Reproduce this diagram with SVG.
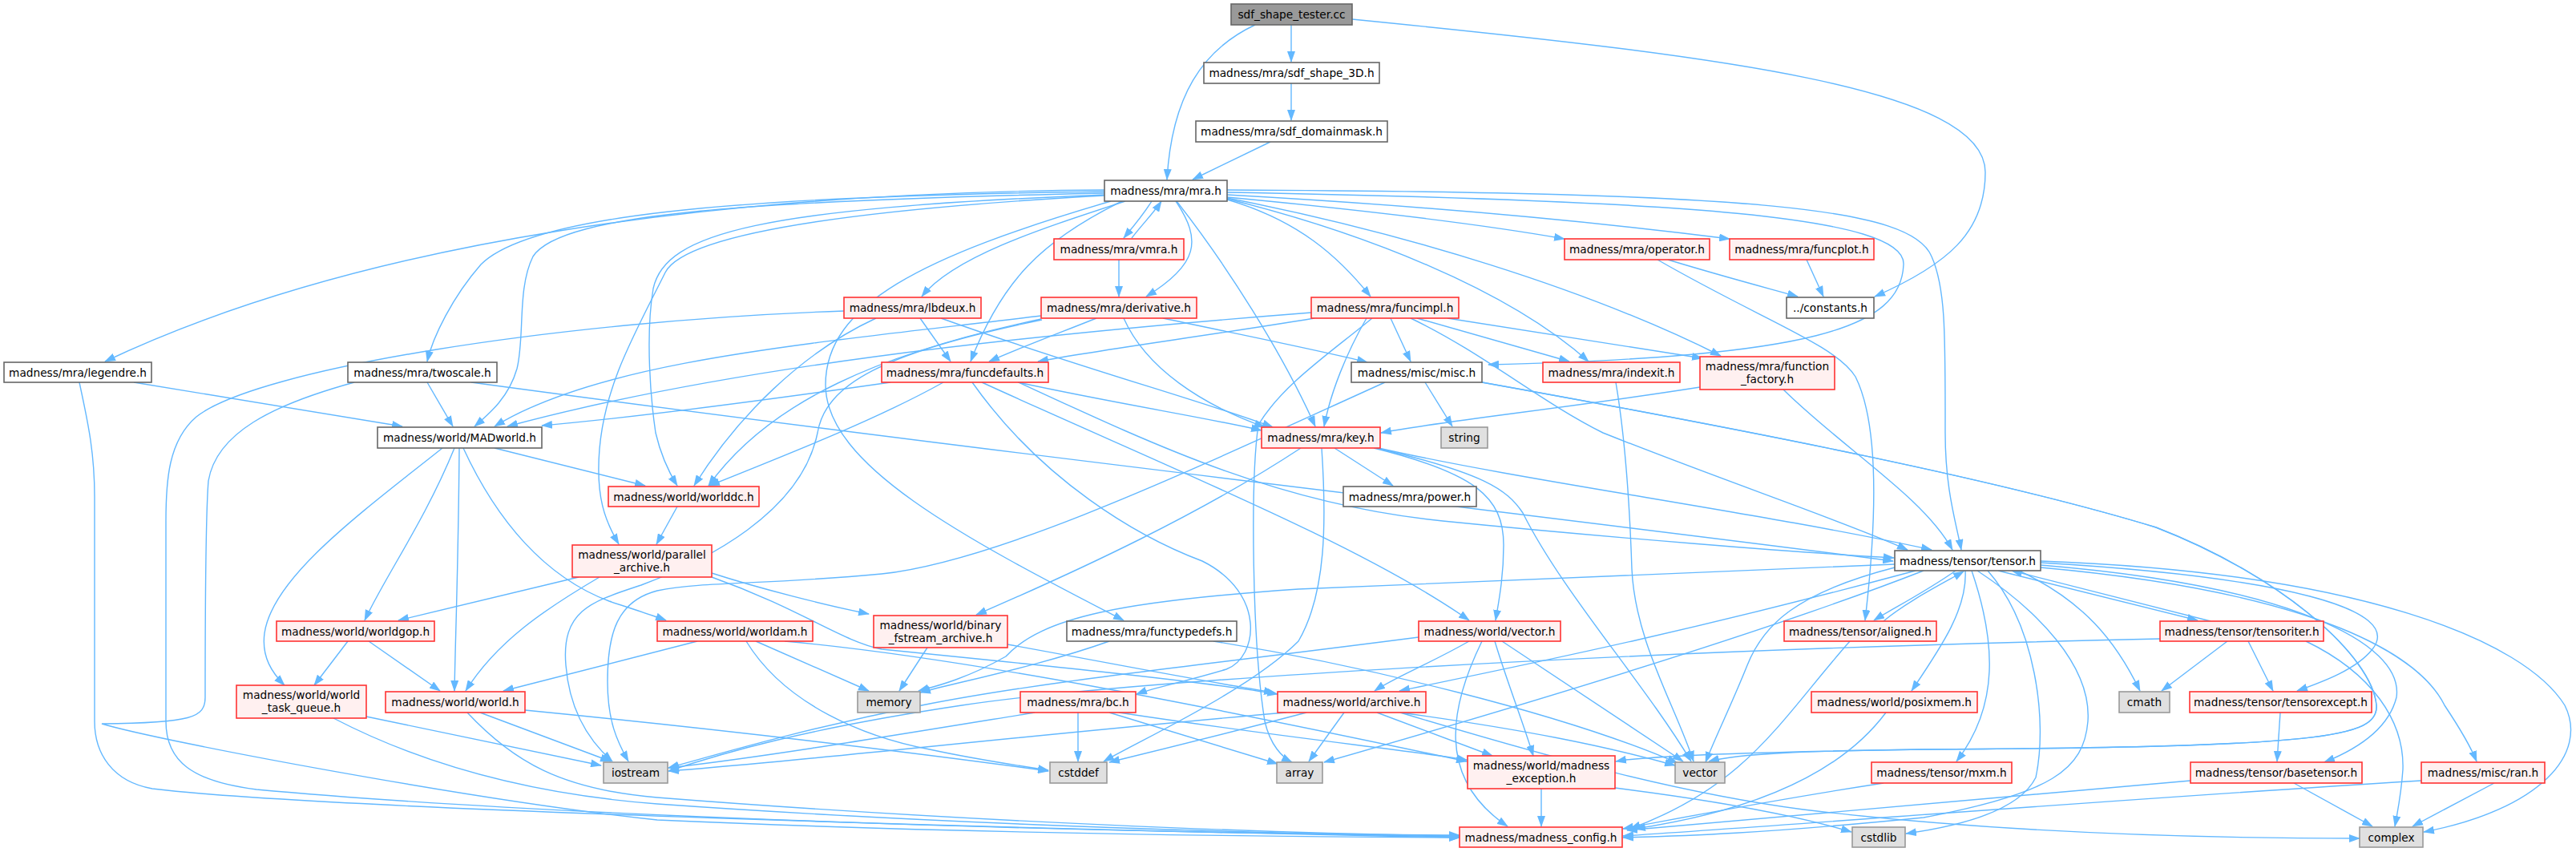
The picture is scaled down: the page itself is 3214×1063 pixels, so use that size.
<svg xmlns="http://www.w3.org/2000/svg" width="3214" height="1063" viewBox="0 0 3214 1063">
<style>
.n rect{stroke-width:1.6}
.w rect{fill:#ffffff;stroke:#666666}
.r rect{fill:#fff0f0;stroke:#ff3333}
.g rect{fill:#e0e0e0;stroke:#999999}
.root rect{fill:#999999;stroke:#666666}
text{font-family:"DejaVu Sans","Liberation Sans",sans-serif;font-size:13.7px;fill:#000;text-anchor:middle}
#edges path{fill:none;stroke:#63b8ff;stroke-width:1.4;marker-end:url(#a)}
</style>
<defs>
<marker id="a" markerUnits="userSpaceOnUse" markerWidth="14" markerHeight="10" refX="13" refY="5" orient="auto" viewBox="0 0 14 10"><path d="M0,0 L14,5 L0,10 z" fill="#63b8ff"/></marker>
</defs>
<rect width="3214" height="1063" fill="#ffffff"/>
<g id="edges">
<path d="M1566,31 C1500,62 1462,120 1456,224"/>
<path d="M1611,31 L1611,77"/>
<path d="M1687,24 C2150,70 2477,110 2477,215 C2477,290 2430,330 2339,370"/>
<path d="M1611,104 L1611,150"/>
<path d="M1585,177 L1488,224"/>
<path d="M1378,237 C900,240 450,300 131,451"/>
<path d="M1378,239 C900,245 660,270 600,330 C565,370 540,420 533,451"/>
<path d="M1378,241 C950,250 700,265 665,320 C645,360 655,420 645,460 C635,495 612,515 592,532"/>
<path d="M1378,243 C950,260 830,290 815,360 C805,420 812,500 818,540 C825,570 835,590 845,606"/>
<path d="M1378,244 C1000,265 850,300 830,340 C790,420 755,480 748,560 C743,620 755,650 772,679"/>
<path d="M1404,251 C1300,285 1190,320 1150,370"/>
<path d="M1437,251 C1425,270 1412,285 1402,297"/>
<path d="M1467,251 C1500,300 1495,330 1430,370"/>
<path d="M1400,251 C1300,300 1250,350 1211,451"/>
<path d="M1386,251 C1150,320 1030,380 1030,480 C1030,580 1200,670 1402,774"/>
<path d="M1468,251 C1530,330 1600,440 1641,532"/>
<path d="M1531,249 C1620,275 1670,320 1710,370"/>
<path d="M1531,240 C2100,250 2378,270 2375,330 C2372,410 2260,445 1857,455"/>
<path d="M1531,246 C1700,262 1850,280 1952,298"/>
<path d="M1531,243 C1800,258 2000,278 2158,298"/>
<path d="M1531,248 C1700,290 1880,360 1982,451"/>
<path d="M1531,247 C1750,290 1980,360 2147,444"/>
<path d="M1531,237 C2200,240 2385,260 2410,320 C2428,360 2427,420 2427,540 C2427,610 2440,650 2447,686"/>
<path d="M1412,297 C1425,280 1440,265 1449,251"/>
<path d="M1396,324 L1396,370"/>
<path d="M2081,324 C2150,345 2200,358 2243,370"/>
<path d="M2068,324 C2200,400 2290,430 2315,470 C2340,520 2345,620 2327,774"/>
<path d="M2254,324 L2275,370"/>
<path d="M1053,388 C700,400 320,460 245,520 C210,550 207,600 207,650 L207,900 C207,950 240,975 320,985 C700,1020 1400,1040 1821,1042"/>
<path d="M1093,397 C1000,440 920,520 866,606"/>
<path d="M1148,397 L1186,451"/>
<path d="M1174,397 C1350,460 1500,500 1588,533"/>
<path d="M1368,397 C1310,420 1270,435 1234,451"/>
<path d="M1402,397 C1430,460 1500,505 1578,533"/>
<path d="M1451,397 C1560,420 1650,438 1706,452"/>
<path d="M1299,394 C1000,430 750,450 617,532"/>
<path d="M1299,398 C1100,440 960,500 884,606"/>
<path d="M1300,399 C1100,440 1030,480 1020,540 C1000,640 880,700 800,730 C740,750 700,760 706,830 C710,880 730,920 764,950"/>
<path d="M1640,397 C1500,420 1380,435 1295,451"/>
<path d="M1636,390 C1250,420 900,460 633,532"/>
<path d="M1728,477 C1500,580 1250,700 1100,716 C950,730 880,725 820,737 C770,750 758,790 758,850 C758,900 770,925 784,950"/>
<path d="M1712,397 C1660,440 1600,480 1570,530 C1560,600 1562,800 1578,900 C1585,930 1600,945 1612,951"/>
<path d="M1705,397 C1680,440 1660,490 1652,532"/>
<path d="M1735,397 L1760,451"/>
<path d="M1768,397 C1850,420 1920,440 1958,451"/>
<path d="M1806,397 C1950,420 2050,435 2124,447"/>
<path d="M1760,397 C1850,440 1920,500 2000,540 C2150,600 2300,650 2380,686"/>
<path d="M1111,477 C950,500 800,520 676,531"/>
<path d="M1177,477 C1100,520 1000,560 885,606"/>
<path d="M1270,477 C1400,505 1500,520 1574,537"/>
<path d="M1271,477 C1450,560 1600,630 1800,650 C2000,670 2250,690 2363,696"/>
<path d="M1225,477 C1450,580 1700,680 1833,774"/>
<path d="M1213,477 C1300,600 1420,670 1500,700 C1580,740 1570,820 1530,835 C1480,850 1440,858 1418,866"/>
<path d="M1778,477 L1812,532"/>
<path d="M1849,477 C2200,540 2500,600 2690,658 C2850,720 2960,820 2965,880 C2968,920 2900,932 2400,935 C2200,938 2060,942 2016,950"/>
<path d="M1849,477 C2200,540 2500,600 2690,658 C2850,720 2960,820 2965,880 C2968,920 2900,932 2400,935 C2250,937 2170,940 2132,950"/>
<path d="M2016,477 C2030,560 2034,650 2036,710 C2040,800 2090,880 2113,950"/>
<path d="M2121,483 C1950,510 1800,525 1723,540"/>
<path d="M2225,486 C2300,560 2400,620 2436,686"/>
<path d="M617,559 L805,606"/>
<path d="M567,559 C530,650 480,720 455,774"/>
<path d="M573,559 C572,700 568,800 567,862"/>
<path d="M552,559 C450,640 340,720 330,790 C326,820 340,840 355,855"/>
<path d="M578,559 C620,650 680,720 760,750 C790,760 815,768 831,774"/>
<path d="M1665,559 L1738,606"/>
<path d="M1714,559 C1840,590 1876,620 1876,680 C1876,720 1870,750 1866,774"/>
<path d="M1717,559 C1850,590 1880,610 1900,640 C1950,740 2050,850 2110,950"/>
<path d="M1720,559 C1900,600 2200,640 2410,686"/>
<path d="M1623,559 C1500,640 1350,710 1218,767"/>
<path d="M1649,559 C1655,650 1655,740 1620,800 C1560,860 1430,920 1377,950"/>
<path d="M845,632 L819,679"/>
<path d="M722,720 L497,774"/>
<path d="M748,720 C680,760 620,800 581,862"/>
<path d="M888,715 C950,735 1030,755 1084,766"/>
<path d="M888,720 C1000,760 1050,800 1100,810 C1300,830 1500,850 1594,866"/>
<path d="M434,800 L392,855"/>
<path d="M460,800 L549,862"/>
<path d="M870,800 L628,862"/>
<path d="M943,800 L1084,862"/>
<path d="M931,800 C980,880 1080,920 1160,935 C1220,948 1270,955 1308,961"/>
<path d="M979,800 C1200,820 1500,880 1830,950"/>
<path d="M1157,808 L1122,862"/>
<path d="M1257,804 C1400,830 1500,850 1590,864"/>
<path d="M1384,800 C1300,830 1200,850 1148,864"/>
<path d="M1514,800 C1700,830 1950,890 2093,952"/>
<path d="M1833,800 C1780,830 1740,845 1715,862"/>
<path d="M1865,800 C1880,850 1900,900 1913,943"/>
<path d="M1849,800 C1810,880 1790,970 1881,1031"/>
<path d="M1874,800 L2100,950"/>
<path d="M1770,795 C1500,830 1300,850 1150,880 C1000,910 900,940 834,958"/>
<path d="M2440,712 C2400,740 2360,760 2338,774"/>
<path d="M2350,775 C2380,750 2420,730 2450,713"/>
<path d="M2493,712 L2742,774"/>
<path d="M2758,775 L2510,712"/>
<path d="M2519,712 C2600,750 2640,800 2670,862"/>
<path d="M2546,702 C2850,720 3000,760 2960,810 C2940,835 2900,850 2866,862"/>
<path d="M2546,705 C2850,730 3000,800 2990,870 C2980,910 2940,935 2900,951"/>
<path d="M2546,708 C2900,740 3020,820 3050,880 C3070,910 3082,930 3090,950"/>
<path d="M2546,700 C2950,715 3150,800 3200,880 C3230,940 3170,1010 3024,1038"/>
<path d="M2452,712 C2455,760 2420,810 2385,862"/>
<path d="M2460,712 C2490,800 2495,880 2441,950"/>
<path d="M2467,712 C2540,760 2610,830 2605,900 C2600,960 2560,990 2400,1020 C2200,1040 2100,1043 2025,1045"/>
<path d="M2480,712 C2540,780 2555,900 2540,970 C2520,1010 2450,1030 2378,1040"/>
<path d="M2364,708 C2240,740 2200,780 2180,830 C2160,880 2140,920 2128,951"/>
<path d="M2400,712 C2200,790 1900,880 1652,951"/>
<path d="M2390,712 C2100,790 1900,830 1746,862"/>
<path d="M2364,704 C2000,720 1700,730 1620,735 C1400,750 1300,770 1255,819 C1200,850 1160,858 1146,862"/>
<path d="M2695,797 C2000,812 1400,850 1200,880 C1000,910 900,940 834,962"/>
<path d="M457,894 L750,955"/>
<path d="M416,896 C520,950 650,990 820,1003 C1200,1030 1600,1040 1821,1044"/>
<path d="M599,889 L762,950"/>
<path d="M655,886 C900,910 1150,940 1308,962"/>
<path d="M583,889 C640,950 700,985 820,995 C1200,1025 1600,1040 1821,1043"/>
<path d="M1291,889 C1100,920 950,945 834,958"/>
<path d="M1345,889 L1345,950"/>
<path d="M1384,889 L1594,953"/>
<path d="M1396,889 C1600,920 1750,935 1830,948"/>
<path d="M1605,889 C1300,915 1000,950 834,962"/>
<path d="M1630,889 C1550,910 1450,935 1384,951"/>
<path d="M1677,889 L1633,950"/>
<path d="M1718,889 L1862,943"/>
<path d="M1747,889 C1900,910 2000,930 2090,955"/>
<path d="M1747,889 C1950,950 2100,990 2250,1010 C2500,1040 2750,1046 2944,1046"/>
<path d="M2308,800 C2220,900 2180,980 2034,1034"/>
<path d="M2779,800 L2697,862"/>
<path d="M2805,800 L2836,862"/>
<path d="M2877,800 C2960,840 3000,900 2998,960 C2996,990 2992,1010 2988,1031"/>
<path d="M2845,889 L2841,950"/>
<path d="M2862,977 L2960,1031"/>
<path d="M2733,974 C2500,995 2200,1020 2030,1036"/>
<path d="M3112,977 L3010,1031"/>
<path d="M3021,974 C2600,1000 2300,1025 2025,1043"/>
<path d="M2353,889 C2300,960 2200,1010 2040,1034"/>
<path d="M2350,977 C2200,1000 2100,1020 2025,1034"/>
<path d="M1923,984 L1923,1031"/>
<path d="M2015,983 C2150,1000 2250,1020 2310,1038"/>
<path d="M167,477 L502,532"/>
<path d="M99,477 C108,520 118,560 118,620 L118,900 C118,940 140,975 190,984 C400,1010 1300,1035 1821,1045"/>
<path d="M533,477 L565,532"/>
<path d="M588,477 C1200,560 1900,640 2362,700"/>
<path d="M442,477 C340,505 270,540 260,600 C256,650 256,800 256,870 C256,895 240,902 127,903 C200,925 600,1000 820,1023 C1200,1040 1600,1044 1821,1045"/>
</g>
<g id="n_root" class="n root"><rect x="1536" y="5" width="151" height="26"/><text x="1611.5" y="23">sdf_shape_tester.cc</text></g>
<g id="n_s3d" class="n w"><rect x="1502" y="78" width="219" height="26"/><text x="1611.5" y="96">madness/mra/sdf_shape_3D.h</text></g>
<g id="n_dm" class="n w"><rect x="1492" y="151" width="239" height="26"/><text x="1611.5" y="169">madness/mra/sdf_domainmask.h</text></g>
<g id="n_mra" class="n w"><rect x="1378" y="225" width="153" height="26"/><text x="1454.5" y="243">madness/mra/mra.h</text></g>
<g id="n_vmra" class="n r"><rect x="1315" y="298" width="162" height="26"/><text x="1396" y="316">madness/mra/vmra.h</text></g>
<g id="n_oper" class="n r"><rect x="1952" y="298" width="181" height="26"/><text x="2042.5" y="316">madness/mra/operator.h</text></g>
<g id="n_fplot" class="n r"><rect x="2158" y="298" width="180" height="26"/><text x="2248" y="316">madness/mra/funcplot.h</text></g>
<g id="n_lbdeux" class="n r"><rect x="1053" y="371" width="171" height="26"/><text x="1138.5" y="389">madness/mra/lbdeux.h</text></g>
<g id="n_deriv" class="n r"><rect x="1299" y="371" width="194" height="26"/><text x="1396" y="389">madness/mra/derivative.h</text></g>
<g id="n_fimpl" class="n r"><rect x="1636" y="371" width="184" height="26"/><text x="1728" y="389">madness/mra/funcimpl.h</text></g>
<g id="n_const" class="n w"><rect x="2229" y="371" width="109" height="26"/><text x="2283.5" y="389">../constants.h</text></g>
<g id="n_legendre" class="n w"><rect x="5" y="452" width="184" height="25"/><text x="97" y="470">madness/mra/legendre.h</text></g>
<g id="n_twoscale" class="n w"><rect x="434" y="452" width="186" height="25"/><text x="527" y="470">madness/mra/twoscale.h</text></g>
<g id="n_fdef" class="n r"><rect x="1100" y="452" width="208" height="25"/><text x="1204" y="470">madness/mra/funcdefaults.h</text></g>
<g id="n_misc" class="n w"><rect x="1686" y="452" width="163" height="25"/><text x="1767.5" y="470">madness/misc/misc.h</text></g>
<g id="n_indexit" class="n r"><rect x="1925" y="452" width="171" height="25"/><text x="2010.5" y="470">madness/mra/indexit.h</text></g>
<g id="n_ffact" class="n r"><rect x="2121" y="445" width="168" height="41"/><text x="2205" y="462">madness/mra/function</text><text x="2205" y="478">_factory.h</text></g>
<g id="n_madworld" class="n w"><rect x="471" y="533" width="205" height="26"/><text x="573.5" y="551">madness/world/MADworld.h</text></g>
<g id="n_key" class="n r"><rect x="1574" y="533" width="148" height="26"/><text x="1648" y="551">madness/mra/key.h</text></g>
<g id="n_string" class="n g"><rect x="1798" y="533" width="58" height="26"/><text x="1827" y="551">string</text></g>
<g id="n_worlddc" class="n r"><rect x="759" y="607" width="188" height="25"/><text x="853" y="625">madness/world/worlddc.h</text></g>
<g id="n_power" class="n w"><rect x="1676" y="607" width="166" height="25"/><text x="1759" y="625">madness/mra/power.h</text></g>
<g id="n_parch" class="n r"><rect x="714" y="680" width="174" height="40"/><text x="801" y="697">madness/world/parallel</text><text x="801" y="713">_archive.h</text></g>
<g id="n_tensor" class="n w"><rect x="2364" y="687" width="182" height="25"/><text x="2455" y="705">madness/tensor/tensor.h</text></g>
<g id="n_worldgop" class="n r"><rect x="345" y="775" width="197" height="25"/><text x="443.5" y="793">madness/world/worldgop.h</text></g>
<g id="n_worldam" class="n r"><rect x="820" y="775" width="194" height="25"/><text x="917" y="793">madness/world/worldam.h</text></g>
<g id="n_binfs" class="n r"><rect x="1090" y="768" width="167" height="40"/><text x="1173.5" y="785">madness/world/binary</text><text x="1173.5" y="801">_fstream_archive.h</text></g>
<g id="n_ftypedefs" class="n w"><rect x="1331" y="775" width="212" height="25"/><text x="1437" y="793">madness/mra/functypedefs.h</text></g>
<g id="n_vectorh" class="n r"><rect x="1770" y="775" width="177" height="25"/><text x="1858.5" y="793">madness/world/vector.h</text></g>
<g id="n_aligned" class="n r"><rect x="2226" y="775" width="190" height="25"/><text x="2321" y="793">madness/tensor/aligned.h</text></g>
<g id="n_titer" class="n r"><rect x="2695" y="775" width="204" height="25"/><text x="2797" y="793">madness/tensor/tensoriter.h</text></g>
<g id="n_wtq" class="n r"><rect x="295" y="855" width="162" height="41"/><text x="376" y="872">madness/world/world</text><text x="376" y="888">_task_queue.h</text></g>
<g id="n_world" class="n r"><rect x="481" y="863" width="174" height="26"/><text x="568" y="881">madness/world/world.h</text></g>
<g id="n_memory" class="n g"><rect x="1070" y="863" width="78" height="26"/><text x="1109" y="881">memory</text></g>
<g id="n_bc" class="n r"><rect x="1273" y="863" width="144" height="26"/><text x="1345" y="881">madness/mra/bc.h</text></g>
<g id="n_archive" class="n r"><rect x="1594" y="863" width="185" height="26"/><text x="1686.5" y="881">madness/world/archive.h</text></g>
<g id="n_posixmem" class="n r"><rect x="2260" y="863" width="207" height="26"/><text x="2363.5" y="881">madness/world/posixmem.h</text></g>
<g id="n_cmath" class="n g"><rect x="2644" y="863" width="63" height="26"/><text x="2675.5" y="881">cmath</text></g>
<g id="n_texcept" class="n r"><rect x="2732" y="863" width="227" height="26"/><text x="2845.5" y="881">madness/tensor/tensorexcept.h</text></g>
<g id="n_iostream" class="n g"><rect x="753" y="951" width="80" height="26"/><text x="793" y="969">iostream</text></g>
<g id="n_cstddef" class="n g"><rect x="1310" y="951" width="71" height="26"/><text x="1345.5" y="969">cstddef</text></g>
<g id="n_array" class="n g"><rect x="1593" y="951" width="57" height="26"/><text x="1621.5" y="969">array</text></g>
<g id="n_mexc" class="n r"><rect x="1831" y="943" width="184" height="41"/><text x="1923" y="960">madness/world/madness</text><text x="1923" y="976">_exception.h</text></g>
<g id="n_vector" class="n g"><rect x="2090" y="951" width="62" height="26"/><text x="2121" y="969">vector</text></g>
<g id="n_mxm" class="n r"><rect x="2335" y="951" width="175" height="26"/><text x="2422.5" y="969">madness/tensor/mxm.h</text></g>
<g id="n_basetensor" class="n r"><rect x="2733" y="951" width="214" height="26"/><text x="2840" y="969">madness/tensor/basetensor.h</text></g>
<g id="n_ran" class="n r"><rect x="3021" y="951" width="154" height="26"/><text x="3098" y="969">madness/misc/ran.h</text></g>
<g id="n_mconfig" class="n r"><rect x="1821" y="1032" width="203" height="25"/><text x="1922.5" y="1050">madness/madness_config.h</text></g>
<g id="n_cstdlib" class="n g"><rect x="2311" y="1032" width="66" height="25"/><text x="2344" y="1050">cstdlib</text></g>
<g id="n_complex" class="n g"><rect x="2944" y="1032" width="79" height="25"/><text x="2983.5" y="1050">complex</text></g>
</svg>
